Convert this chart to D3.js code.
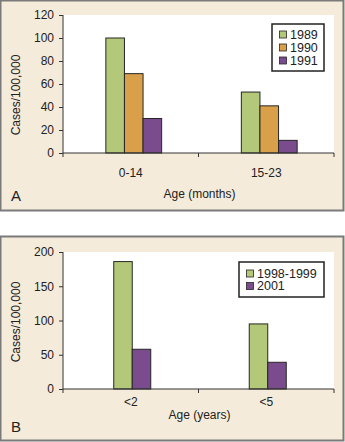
<!DOCTYPE html>
<html>
<head>
<meta charset="utf-8">
<script src="https://cdn.jsdelivr.net/npm/d3@7"></script>
<style>
  html, body { margin: 0; padding: 0; background: #fff; }
  svg { display: block; font-family: "Liberation Sans", Arial, sans-serif; }
</style>
</head>
<body>
<svg id="chart" width="345" height="442"></svg>
<script>
// Panel A: cases per 100,000 by age in months
const catsA = ["0-14", "15-23"];
const seriesA = ["1989", "1990", "1991"];
const valuesA = [
  [100, 53],   // 1989
  [69, 41],    // 1990
  [30, 11]     // 1991
];
const ticksA = [0, 20, 40, 60, 80, 100, 120];

// Panel B: cases per 100,000 by age in years
const catsB = ["<2", "<5"];
const seriesB = ["1998-1999", "2001"];
const valuesB = [
  [186, 95],   // 1998-1999
  [58, 39]     // 2001
];
const ticksB = [0, 50, 100, 150, 200];

const colorsA = ["#b3c878", "#d9a049", "#7b4c8d"];
const colorsB = ["#b3c878", "#7b4c8d"];

const svg = d3.select("#chart");

function panel(opt) {
  const g = svg.append("g");
  // framed beige background
  g.append("rect")
    .attr("x", 0.5).attr("y", opt.top + 0.5)
    .attr("width", 343).attr("height", opt.height)
    .attr("fill", "#f5ebda").attr("stroke", "#7a7a7a").attr("stroke-width", 2);

  const x0 = 63, x1 = 334;
  const yTop = opt.plotTop, yBot = opt.plotBot;

  g.append("rect")
    .attr("x", x0).attr("y", yTop)
    .attr("width", x1 - x0).attr("height", yBot - yTop)
    .attr("fill", "#ffffff");

  const x = d3.scaleBand().domain(opt.cats).range([x0, x1]);
  const xs = d3.scaleBand().domain(opt.series).range([0, opt.barW * opt.series.length]);
  const y = d3.scaleLinear().domain([0, d3.max(opt.ticks)]).range([yBot, yTop]);

  // bars
  opt.series.forEach((s, si) => {
    g.append("g").selectAll("rect")
      .data(opt.values[si])
      .join("rect")
      .attr("x", (d, i) => x(opt.cats[i]) + x.bandwidth() / 2 - xs.range()[1] / 2 + opt.shift + xs(s))
      .attr("y", d => y(d))
      .attr("width", xs.bandwidth())
      .attr("height", d => yBot - y(d))
      .attr("fill", opt.colors[si])
      .attr("stroke", "#262626")
      .attr("stroke-width", 1);
  });

  // y axis
  const ya = g.append("g")
    .attr("transform", `translate(${x0},0)`)
    .call(d3.axisLeft(y).tickValues(opt.ticks).tickSize(4).tickPadding(5));
  ya.selectAll("text").attr("font-size", 12).attr("fill", "#222").style("font-family", "Liberation Sans, Arial, sans-serif");
  ya.selectAll("line, path").attr("stroke", "#333");
  ya.select(".domain").attr("d", `M0,${yTop}V${yBot}`);

  // x axis with ticks between the categories
  const xa = g.append("g").attr("transform", `translate(0,${yBot})`);
  xa.append("line").attr("x1", x0).attr("x2", x1).attr("stroke", "#333");
  const edges = opt.cats.map(c => x(c)).concat([x1]);
  xa.selectAll("line.tk").data(edges).join("line")
    .attr("class", "tk")
    .attr("x1", d => d).attr("x2", d => d)
    .attr("y1", 0).attr("y2", 4).attr("stroke", "#333");
  xa.selectAll("text").data(opt.cats).join("text")
    .attr("x", d => x(d) + x.bandwidth() / 2)
    .attr("y", opt.labelDy)
    .attr("text-anchor", "middle")
    .attr("font-size", 12).attr("fill", "#222")
    .text(d => d);

  // axis titles
  g.append("text")
    .attr("x", (x0 + x1) / 2 + 1).attr("y", opt.titleY)
    .attr("text-anchor", "middle").attr("font-size", 12).attr("fill", "#222")
    .text(opt.xTitle);
  g.append("text")
    .attr("transform", `translate(20,${opt.yTitleY}) rotate(-90)`)
    .attr("text-anchor", "middle").attr("font-size", 12).attr("fill", "#222")
    .text("Cases/100,000");

  // panel letter
  g.append("text")
    .attr("x", 11).attr("y", opt.letterY)
    .attr("font-size", 15).attr("fill", "#222")
    .text(opt.letter);

  // legend
  const L = opt.legend;
  g.append("rect")
    .attr("x", L.x).attr("y", L.y).attr("width", L.w).attr("height", L.h)
    .attr("fill", "#fff").attr("stroke", "#222").attr("stroke-width", 1.5);
  opt.series.forEach((s, si) => {
    const cy = L.y + L.first + si * L.step;
    g.append("rect")
      .attr("x", L.x + 7.5).attr("y", cy - 3.5)
      .attr("width", 7).attr("height", 7)
      .attr("fill", opt.colors[si]).attr("stroke", "#262626").attr("stroke-width", 0.8);
    g.append("text")
      .attr("x", L.x + 18).attr("y", cy + 4.3)
      .attr("font-size", 12.5).attr("fill", "#222")
      .text(s);
  });
}

panel({
  top: 0, height: 210, plotTop: 15, plotBot: 153,
  cats: catsA, series: seriesA, values: valuesA, ticks: ticksA, colors: colorsA,
  barW: 18.6, shift: 3, labelDy: 24, titleY: 198, yTitleY: 95,
  xTitle: "Age (months)", letter: "A", letterY: 201,
  legend: { x: 272, y: 24, w: 52, h: 47, first: 10.5, step: 13 }
});

panel({
  top: 236, height: 204, plotTop: 252, plotBot: 389,
  cats: catsB, series: seriesB, values: valuesB, ticks: ticksB, colors: colorsB,
  barW: 18.5, shift: 1.5, labelDy: 17, titleY: 419, yTitleY: 322,
  xTitle: "Age (years)", letter: "B", letterY: 432,
  legend: { x: 239, y: 262, w: 85, h: 35, first: 11.5, step: 12.5 }
});
</script>
</body>
</html>
